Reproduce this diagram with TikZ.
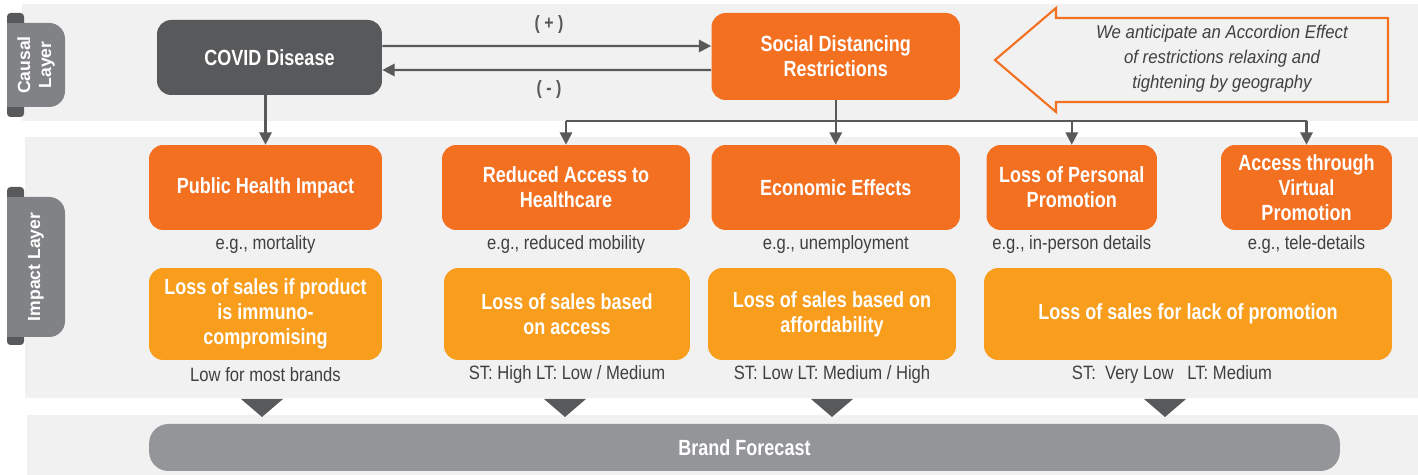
\documentclass[tikz,border=0pt]{standalone}
\usepackage{fontspec}
\setmainfont{Liberation Sans}
\newfontfamily\condfont[FakeStretch=0.82]{Liberation Sans}
\newfontfamily\notefont[FakeStretch=0.86]{Liberation Sans}
\newfontfamily\quotefont[FakeStretch=0.91]{Liberation Sans}
\usetikzlibrary{arrows.meta}

\definecolor{darkorange}{HTML}{F37021}
\definecolor{lightorange}{HTML}{F99D1C}
\definecolor{darkgray}{HTML}{58595B}
\definecolor{tabgray}{HTML}{808285}
\definecolor{brandgray}{HTML}{939598}
\definecolor{bandgray}{HTML}{F1F1F1}
\definecolor{notegray}{HTML}{404041}

\tikzset{
  box/.style={rounded corners=8pt, text=white, align=center, inner sep=0pt,
    font=\condfont\bfseries\fontsize{12.5}{14.2}\selectfont},
  cause/.style={box, fill=darkgray},
  impact/.style={box, fill=darkorange, minimum height=1.7cm},
  sales/.style={box, fill=lightorange, minimum height=1.84cm},
  caption/.style={text=notegray, inner sep=0pt,
    font=\notefont\fontsize{11}{13}\selectfont},
  sign/.style={text=darkgray, inner sep=0pt,
    font=\condfont\bfseries\fontsize{11}{13}\selectfont},
  tabtext/.style={rotate=90, text=white, align=center, inner sep=0pt,
    font=\bfseries\fontsize{10}{12}\selectfont},
  link/.style={draw=darkgray, line width=1.3pt, -{Triangle[length=7pt,width=7pt]}},
  wire/.style={draw=darkgray, line width=1.3pt},
}

\begin{document}
\begin{tikzpicture}[x=0.02cm, y=-0.02cm]
    \useasboundingbox (0,0) rectangle (1418,475);

    % layer bands
    \fill[bandgray] (22,4) rectangle (1418,121);
    \fill[bandgray] (25,137) rectangle (1418,398);
    \fill[bandgray] (27,415) rectangle (1418,475);

    % layer tabs
    \fill[darkgray, rounded corners=2pt] (7,13) rectangle (24,117);
    \fill[tabgray, rounded corners=9pt] (7,23) rectangle (65,107);
    \fill[tabgray] (7,23) rectangle (30,107);
    \node[tabtext] (causal) at (36,65) {Causal\\Layer};

    \fill[darkgray, rounded corners=2pt] (7,187) rectangle (24,345);
    \fill[tabgray, rounded corners=9pt] (7,197) rectangle (65,337);
    \fill[tabgray] (7,197) rectangle (30,337);
    \node[tabtext] (impactlayer) at (36,267) {Impact Layer};

    % causal layer
    \node[cause, minimum width=4.5cm, minimum height=1.5cm] (covid) at (269.5,57.5) {COVID Disease};
    \node[box, fill=darkorange, minimum width=4.97cm, minimum height=1.74cm] (sdr) at (835.75,56.5) {Social Distancing\\Restrictions};

    \draw[link] ([yshift=0.23cm]covid.east) -- ([yshift=0.21cm]sdr.west);
    \draw[link] ([yshift=-0.27cm]sdr.west) -- ([yshift=-0.25cm]covid.east);
    \node[sign] (plus) at (549,25) {( + )};
    \node[sign] (minus) at (549,90) {( - )};

    \draw[darkorange, line width=1.2pt, fill=bandgray] (995,60) -- (1056,8) -- (1056,18)
        -- (1388,18) -- (1388,102) -- (1056,102) -- (1056,112) -- cycle;
    \node[text=notegray, align=center, inner sep=0pt,
        font=\quotefont\itshape\fontsize{10.5}{14.2}\selectfont] (accordion) at (1222,59)
        {We anticipate an Accordion Effect\\of restrictions relaxing and\\tightening by geography};

    % impact layer
    \node[impact, minimum width=4.66cm] (phi) at (265.5,187.5) {Public Health Impact};
    \node[impact, minimum width=4.96cm] (rah) at (566,187.5) {Reduced Access to\\Healthcare};
    \node[impact, minimum width=4.97cm] (eco) at (835.75,187.5) {Economic Effects};
    \node[impact, minimum width=3.41cm] (lpp) at (1071.75,187.5) {Loss of Personal\\Promotion};
    \node[impact, minimum width=3.42cm] (avp) at (1306.5,187.5) {Access through\\Virtual\\Promotion};

    \node[caption] (phi-eg) at (265.5,245) {e.g., mortality};
    \node[caption] (rah-eg) at (566,245) {e.g., reduced mobility};
    \node[caption] (eco-eg) at (835.75,245) {e.g., unemployment};
    \node[caption] (lpp-eg) at (1071.75,245) {e.g., in-person details};
    \node[caption] (avp-eg) at (1306.5,245) {e.g., tele-details};

    \node[sales, minimum width=4.66cm] (ls1) at (265.5,314) {Loss of sales if product\\is immuno-\\compromising};
    \node[sales, minimum width=4.92cm] (ls2) at (567,314) {Loss of sales based\\on access};
    \node[sales, minimum width=4.96cm] (ls3) at (832,314) {Loss of sales based on\\affordability};
    \node[sales, minimum width=8.16cm] (ls4) at (1188,314) {Loss of sales for lack of promotion};

    \node[caption] (ls1-level) at (265.5,375) {Low for most brands};
    \node[caption] (ls2-level) at (567,375) {ST: High LT: Low / Medium};
    \node[caption] (ls3-level) at (832,375) {ST: Low LT: Medium / High};
    \node[caption] (ls4-level) at (1172,375) {ST:\ \ Very Low\ \ \ LT: Medium};

    % causes into impacts
    \draw[link] (covid.south -| phi.north) -- (phi.north);
    \coordinate (split) at (835.75,121);
    \draw[wire] (sdr.south) -- (split);
    \draw[wire] (split -| rah.north) -- (split -| avp.north);
    \foreach \n in {rah,eco,lpp,avp}
        \draw[link] (split -| \n.north) -- (\n.north);

    % into the forecast
    \foreach \x in {262,565,832,1165}
        \fill[darkgray] (\x-21,399) -- (\x+21,399) -- (\x,417) -- cycle;
    \node[box, fill=brandgray, minimum width=23.82cm, minimum height=0.94cm,
        rounded corners=11pt] (brand) at (744.5,447.5) {Brand Forecast};
\end{tikzpicture}
\end{document}
